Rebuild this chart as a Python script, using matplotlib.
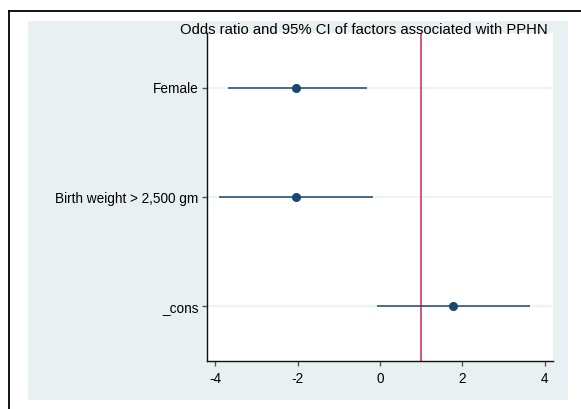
import matplotlib
matplotlib.use("Agg")
import matplotlib.pyplot as plt
from matplotlib.patches import Rectangle
from matplotlib.lines import Line2D

categories = ["Female", "Birth weight > 2,500 gm", "_cons"]
estimates = [-2.03, -2.03, 1.77]
ci_low = [-3.70, -3.91, -0.08]
ci_high = [-0.32, -0.16, 3.63]
xticks = [-4, -2, 0, 2, 4]
ref_x = 1
title = "Odds ratio and 95% CI of factors associated with PPHN"

plt.rcParams['font.family'] = ['Liberation Sans', 'DejaVu Sans']

W, H = 581, 409
fig = plt.figure(figsize=(W / 100, H / 100), dpi=100)
fig.patch.set_facecolor("white")

bg = "#E9F0F2"
# graph region background
fig.patches.append(Rectangle((28 / W, 1 - 400 / H), (568 - 28) / W, (400 - 21) / H,
                             transform=fig.transFigure, facecolor=bg, edgecolor="none", zorder=-5))
# outer border (left and top visible)
fig.lines.append(Line2D([8.5 / W, 8.5 / W], [0, 1 - 10.5 / H], transform=fig.transFigure,
                        color="black", lw=1.3, zorder=-4))
fig.lines.append(Line2D([8.5 / W, 1.0], [1 - 10.5 / H, 1 - 10.5 / H], transform=fig.transFigure,
                        color="black", lw=1.3, zorder=-4))

ax = fig.add_axes([207 / W, 1 - 361 / H, (553 - 207) / W, (361 - 33) / H])
ax.set_zorder(1)
ax.set_facecolor("white")

ypos = list(range(1, len(categories) + 1))
for y in ypos:
    ax.axhline(y, color="#EDF2F3", lw=1.6, zorder=1)

ax.axvline(ref_x, color="#D4375E", lw=1.2, zorder=2)
navy = "#1A476F"
ax.hlines(ypos, ci_low, ci_high, color=navy, lw=1.1, zorder=3)
ax.plot(estimates, ypos, "o", color=navy, ms=5.5, zorder=4)

ax.set_ylim(3.5, 0.5)
ax.set_xlim(-4.2, 4.2)
ax.set_yticks(ypos)
ax.set_yticklabels(categories, fontsize=9.8)
ax.set_xticks(xticks)
ax.set_xticklabels([str(t) for t in xticks], fontsize=9.8)

for s in ["top", "right"]:
    ax.spines[s].set_visible(False)
for s in ["left", "bottom"]:
    ax.spines[s].set_color("#111111")
    ax.spines[s].set_linewidth(1.0)
ax.tick_params(axis="both", direction="out", length=3.6, width=1.0, color="#555555", labelcolor="black")
ax.tick_params(axis="y", pad=2.5)
ax.tick_params(axis="x", pad=4)

fig.text(548 / W, 1 - 30 / H, title, ha="right", va="center", fontsize=10.7, color="black", zorder=10)

fig.savefig("out.png", dpi=100)
